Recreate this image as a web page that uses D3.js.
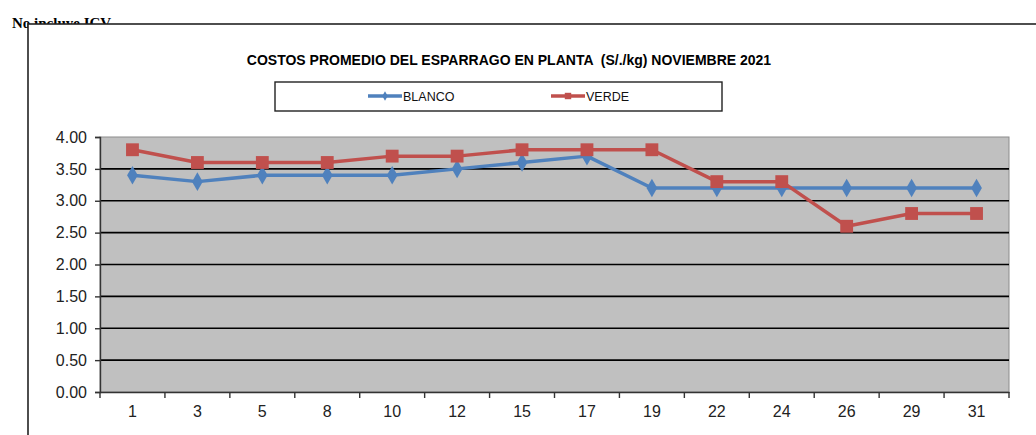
<!DOCTYPE html>
<html>
<head>
<meta charset="utf-8">
<script src="https://cdn.jsdelivr.net/npm/d3@7"></script>
<style>
  body { margin: 0; background: #fff; }
  svg { display: block; }
</style>
</head>
<body>
<svg id="chart" width="1036" height="435"></svg>
<script>
// dias de noviembre
const dias = ["1", "3", "5", "8", "10", "12", "15", "17", "19", "22", "24", "26", "29", "31"];
const blanco = [3.4, 3.3, 3.4, 3.4, 3.4, 3.5, 3.6, 3.7, 3.2, 3.2, 3.2, 3.2, 3.2, 3.2];
const verde = [3.8, 3.6, 3.6, 3.6, 3.7, 3.7, 3.8, 3.8, 3.8, 3.3, 3.3, 2.6, 2.8, 2.8];
const yTicks = [0, 0.5, 1, 1.5, 2, 2.5, 3, 3.5, 4];

const svg = d3.select("#chart");
const font = "'Liberation Sans', Arial, sans-serif";

// nota de arriba, tapada en parte por el marco
svg.append("text")
  .attr("x", 12).attr("y", 28)
  .attr("font-family", "'Liberation Serif', 'Times New Roman', serif")
  .attr("font-weight", "bold").attr("font-size", 15)
  .text("No incluye ICV");

svg.append("rect")
  .attr("x", 28).attr("y", 24).attr("width", 1020).attr("height", 430)
  .attr("fill", "#fff").attr("stroke", "#222").attr("stroke-width", 1.6);

svg.append("text")
  .attr("x", 509).attr("y", 65)
  .attr("text-anchor", "middle")
  .style("white-space", "pre")
  .attr("font-family", font).attr("font-weight", "bold").attr("font-size", 14)
  .text("COSTOS PROMEDIO DEL ESPARRAGO EN PLANTA  (S/./kg) NOVIEMBRE 2021");

const pLeft = 100, pRight = 1009, pTop = 137, pBottom = 392;

const x = d3.scaleBand().domain(dias).range([pLeft, pRight]);
const y = d3.scaleLinear().domain([0, 4]).range([pBottom, pTop]);

svg.append("rect")
  .attr("x", pLeft).attr("y", pTop)
  .attr("width", pRight - pLeft).attr("height", pBottom - pTop)
  .attr("fill", "#c0c0c0").attr("stroke", "#8c8c8c").attr("stroke-width", 1);

// lineas de division
svg.append("g").selectAll("line")
  .data(yTicks.filter(d => d > 0 && d < 4))
  .enter().append("line")
  .attr("x1", pLeft).attr("x2", pRight)
  .attr("y1", d => y(d)).attr("y2", d => y(d))
  .attr("stroke", "#000").attr("stroke-width", 1.6);

// eje Y
const yAxis = svg.append("g")
  .attr("transform", "translate(" + pLeft + ",0)")
  .call(d3.axisLeft(y).tickValues(yTicks).tickFormat(d3.format(".2f")).tickSize(5).tickPadding(8));
yAxis.select(".domain").attr("stroke", "#333").attr("stroke-width", 1.4);
yAxis.selectAll(".tick line").attr("stroke", "#333").attr("stroke-width", 1.4);
yAxis.selectAll("text").attr("font-family", font).attr("font-size", 16).attr("fill", "#222");

// eje X
const xAxis = svg.append("g")
  .attr("transform", "translate(0," + pBottom + ")")
  .call(d3.axisBottom(x).tickSize(0).tickPadding(14));
xAxis.select(".domain").attr("stroke", "#333").attr("stroke-width", 1.6);
xAxis.selectAll("text").attr("font-family", font).attr("font-size", 16).attr("fill", "#222");

// marcas entre categorias
const bordes = dias.map(d => x(d)).concat([x(dias[dias.length - 1]) + x.bandwidth()]);
svg.append("g").selectAll("line")
  .data(bordes)
  .enter().append("line")
  .attr("x1", d => d).attr("x2", d => d)
  .attr("y1", pBottom).attr("y2", pBottom + 6)
  .attr("stroke", "#333").attr("stroke-width", 1.4);

const cx = i => x(dias[i]) + x.bandwidth() / 2;
const linea = d3.line().x((d, i) => cx(i)).y(d => y(d));

const series = [
  { name: "BLANCO", values: blanco, color: "#4f81bd", symbol: d3.symbolDiamond, size: 100 },
  { name: "VERDE", values: verde, color: "#c0504d", symbol: d3.symbolSquare, size: 165 }
];

series.forEach(s => {
  svg.append("path")
    .datum(s.values)
    .attr("d", linea)
    .attr("fill", "none")
    .attr("stroke", s.color)
    .attr("stroke-width", 3.5)
    .attr("stroke-linejoin", "round");
  svg.append("g").selectAll("path")
    .data(s.values)
    .enter().append("path")
    .attr("transform", (d, i) => "translate(" + cx(i) + "," + y(d) + ")")
    .attr("d", d3.symbol().type(s.symbol).size(s.size))
    .attr("fill", s.color);
});

// leyenda
svg.append("rect")
  .attr("x", 275).attr("y", 82).attr("width", 447).attr("height", 29)
  .attr("fill", "#fff").attr("stroke", "#222").attr("stroke-width", 1.4);

const leyendaX = [368, 551];
series.forEach((s, i) => {
  const g = svg.append("g").attr("transform", "translate(" + leyendaX[i] + ",96)");
  g.append("line").attr("x1", 0).attr("x2", 34).attr("y1", 0).attr("y2", 0)
    .attr("stroke", s.color).attr("stroke-width", 3.5);
  g.append("path").attr("transform", "translate(17,0)")
    .attr("d", d3.symbol().type(s.symbol).size(s.size / 4))
    .attr("fill", s.color);
  g.append("text").attr("x", 35).attr("y", 5)
    .attr("font-family", font).attr("font-size", 12.5).attr("fill", "#111")
    .text(s.name);
});
</script>
</body>
</html>
